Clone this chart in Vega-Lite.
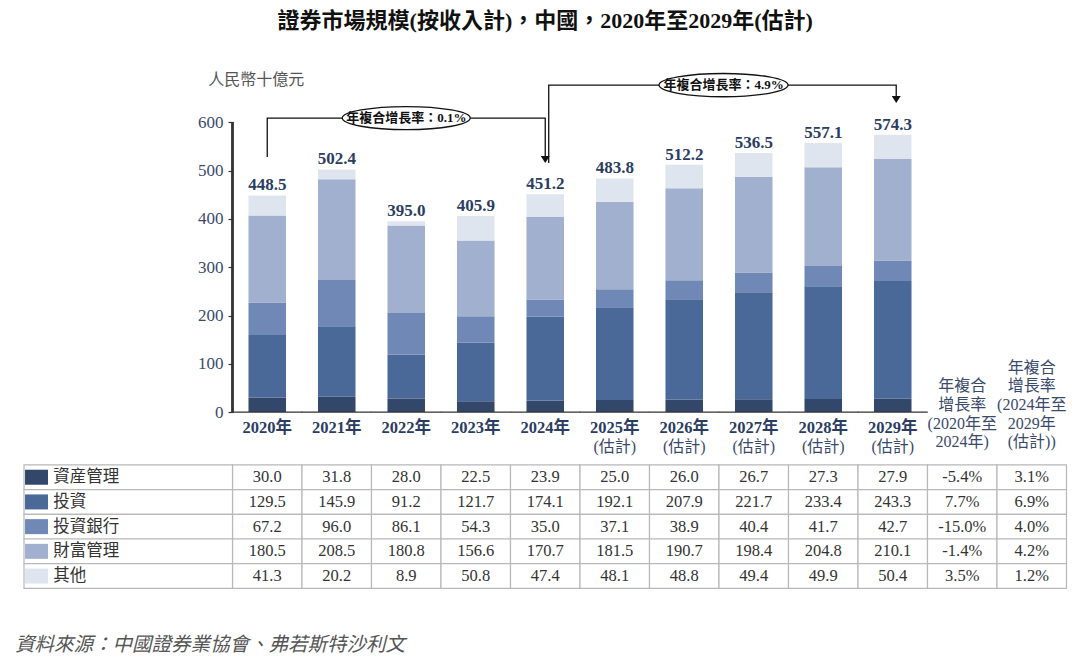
{
  "$schema": "https://vega.github.io/schema/vega-lite/v6.json",
  "width": 1042.5,
  "height": 528.4,
  "autosize": {"type": "none"},
  "padding": {"left": 24, "top": 60, "right": 13.5, "bottom": 72.6},
  "title": {"text": "證券市場規模(按收入計)，中國，2020年至2029年(估計)", "fontSize": 22, "font": "Liberation Serif, Noto Sans CJK TC", "fontWeight": "bold", "color": "#111111", "anchor": "middle", "offset": 27},
  "config": {"view": {"stroke": null}, "text": {"font": "Liberation Serif, Noto Sans CJK TC"}},
  "datasets": {
    "vals": [
      {"c": "2020年", "s": "資産管理", "v": 30.0}, {"c": "2021年", "s": "資産管理", "v": 31.8}, {"c": "2022年", "s": "資産管理", "v": 28.0}, {"c": "2023年", "s": "資産管理", "v": 22.5}, {"c": "2024年", "s": "資産管理", "v": 23.9},
      {"c": "2025年", "s": "資産管理", "v": 25.0}, {"c": "2026年", "s": "資産管理", "v": 26.0}, {"c": "2027年", "s": "資産管理", "v": 26.7}, {"c": "2028年", "s": "資産管理", "v": 27.3}, {"c": "2029年", "s": "資産管理", "v": 27.9},
      {"c": "2020年", "s": "投資", "v": 129.5}, {"c": "2021年", "s": "投資", "v": 145.9}, {"c": "2022年", "s": "投資", "v": 91.2}, {"c": "2023年", "s": "投資", "v": 121.7}, {"c": "2024年", "s": "投資", "v": 174.1},
      {"c": "2025年", "s": "投資", "v": 192.1}, {"c": "2026年", "s": "投資", "v": 207.9}, {"c": "2027年", "s": "投資", "v": 221.7}, {"c": "2028年", "s": "投資", "v": 233.4}, {"c": "2029年", "s": "投資", "v": 243.3},
      {"c": "2020年", "s": "投資銀行", "v": 67.2}, {"c": "2021年", "s": "投資銀行", "v": 96.0}, {"c": "2022年", "s": "投資銀行", "v": 86.1}, {"c": "2023年", "s": "投資銀行", "v": 54.3}, {"c": "2024年", "s": "投資銀行", "v": 35.0},
      {"c": "2025年", "s": "投資銀行", "v": 37.1}, {"c": "2026年", "s": "投資銀行", "v": 38.9}, {"c": "2027年", "s": "投資銀行", "v": 40.4}, {"c": "2028年", "s": "投資銀行", "v": 41.7}, {"c": "2029年", "s": "投資銀行", "v": 42.7},
      {"c": "2020年", "s": "財富管理", "v": 180.5}, {"c": "2021年", "s": "財富管理", "v": 208.5}, {"c": "2022年", "s": "財富管理", "v": 180.8}, {"c": "2023年", "s": "財富管理", "v": 156.6}, {"c": "2024年", "s": "財富管理", "v": 170.7},
      {"c": "2025年", "s": "財富管理", "v": 181.5}, {"c": "2026年", "s": "財富管理", "v": 190.7}, {"c": "2027年", "s": "財富管理", "v": 198.4}, {"c": "2028年", "s": "財富管理", "v": 204.8}, {"c": "2029年", "s": "財富管理", "v": 210.1},
      {"c": "2020年", "s": "其他", "v": 41.3}, {"c": "2021年", "s": "其他", "v": 20.2}, {"c": "2022年", "s": "其他", "v": 8.9}, {"c": "2023年", "s": "其他", "v": 50.8}, {"c": "2024年", "s": "其他", "v": 47.4},
      {"c": "2025年", "s": "其他", "v": 48.1}, {"c": "2026年", "s": "其他", "v": 48.8}, {"c": "2027年", "s": "其他", "v": 49.4}, {"c": "2028年", "s": "其他", "v": 49.9}, {"c": "2029年", "s": "其他", "v": 50.4}
    ],
    "cagr": [
      {"c": "c1", "s": "資産管理", "t": "-5.4%"}, {"c": "c2", "s": "資産管理", "t": "3.1%"},
      {"c": "c1", "s": "投資", "t": "7.7%"}, {"c": "c2", "s": "投資", "t": "6.9%"},
      {"c": "c1", "s": "投資銀行", "t": "-15.0%"}, {"c": "c2", "s": "投資銀行", "t": "4.0%"},
      {"c": "c1", "s": "財富管理", "t": "-1.4%"}, {"c": "c2", "s": "財富管理", "t": "4.2%"},
      {"c": "c1", "s": "其他", "t": "3.5%"}, {"c": "c2", "s": "其他", "t": "1.2%"}
    ],
    "series": [{"s": "資産管理"}, {"s": "投資"}, {"s": "投資銀行"}, {"s": "財富管理"}, {"s": "其他"}],
    "totals": [
      {"c": "2020年", "v": 448.5, "e": ""}, {"c": "2021年", "v": 502.4, "e": ""}, {"c": "2022年", "v": 395.0, "e": ""}, {"c": "2023年", "v": 405.9, "e": ""}, {"c": "2024年", "v": 451.2, "e": ""},
      {"c": "2025年", "v": 483.8, "e": "(估計)"}, {"c": "2026年", "v": 512.2, "e": "(估計)"}, {"c": "2027年", "v": 536.5, "e": "(估計)"}, {"c": "2028年", "v": 557.1, "e": "(估計)"}, {"c": "2029年", "v": 574.3, "e": "(估計)"}
    ],
    "hdr": [
      {"c": "c1", "t": " \n年複合\n增長率\n(2020年至\n2024年)"},
      {"c": "c2", "t": "年複合\n增長率\n(2024年至\n2029年\n(估計))"}
    ],
    "brk1": [
      {"c": "2020年", "v": 528, "i": 1}, {"c": "2020年", "v": 608.7, "i": 2}, {"c": "2024年", "v": 608.7, "i": 3}, {"c": "2024年", "v": 524, "i": 4}
    ],
    "brk2": [
      {"c": "2024年", "v": 515.5, "i": 1}, {"c": "2024年", "v": 677, "i": 2}, {"c": "2029年", "v": 677, "i": 3}, {"c": "2029年", "v": 649, "i": 4}
    ],
    "tag1": [{"c": "2022年", "v": 608.7, "t": "年複合增長率：0.1%"}],
    "tag2": [{"c": "2027年", "v": 677, "t": "年複合增長率：4.9%"}],
    "arr1": [{"c": "2024年", "v": 523}],
    "arr2": [{"c": "2029年", "v": 647.2}]
  },
  "layer": [
    {
      "layer": [
        {
          "data": {"name": "vals"},
          "mark": {"type": "rect", "fill": "#ffffff", "stroke": "#b8b8b8", "strokeWidth": 1.2},
          "encoding": {
            "x": {"field": "c", "type": "nominal", "scale": {"domain": ["L1","L2","L3","2020年","2021年","2022年","2023年","2024年","2025年","2026年","2027年","2028年","2029年","c1","c2"], "paddingInner": 0, "paddingOuter": 0}, "axis": null},
            "y": {"field": "s", "type": "nominal", "scale": {"domain": ["_1","_2","_3","_4","_5","_6","_7","_8","_9","_10","_11","_12","_13","_14","_15","_16","資産管理","投資","投資銀行","財富管理","其他"], "paddingInner": 0, "paddingOuter": 0.195, "align": 1}, "axis": null}
          }
        },
        {
          "data": {"name": "cagr"},
          "mark": {"type": "rect", "fill": "#ffffff", "stroke": "#b8b8b8", "strokeWidth": 1.2},
          "encoding": {
            "x": {"field": "c", "type": "nominal"},
            "y": {"field": "s", "type": "nominal"}
          }
        },
        {
          "data": {"name": "series"},
          "mark": {"type": "rect", "fill": "#ffffff", "stroke": "#b8b8b8", "strokeWidth": 1.2, "width": {"band": 3}},
          "encoding": {
            "x": {"datum": "L2", "type": "nominal"},
            "y": {"field": "s", "type": "nominal"}
          }
        },
        {
          "data": {"name": "series"},
          "mark": {"type": "point", "shape": "M-1.53,-1L1.53,-1L1.53,1L-1.53,1Z", "size": 225, "filled": true, "opacity": 1, "strokeWidth": 0},
          "encoding": {
            "x": {"datum": "L1", "type": "nominal", "bandPosition": 0.18},
            "y": {"field": "s", "type": "nominal"},
            "color": {"field": "s", "type": "nominal", "legend": null}
          }
        },
        {
          "data": {"name": "series"},
          "mark": {"type": "text", "align": "left", "baseline": "middle", "fontSize": 16.5, "color": "#333333"},
          "encoding": {
            "x": {"datum": "L1", "type": "nominal", "bandPosition": 0.42},
            "y": {"field": "s", "type": "nominal"},
            "text": {"field": "s"}
          }
        },
        {
          "data": {"name": "vals"},
          "mark": {"type": "text", "baseline": "middle", "fontSize": 16.5, "color": "#333333"},
          "encoding": {
            "x": {"field": "c", "type": "nominal"},
            "y": {"field": "s", "type": "nominal"},
            "text": {"field": "v", "type": "quantitative", "format": ".1f"}
          }
        },
        {
          "data": {"name": "cagr"},
          "mark": {"type": "text", "baseline": "middle", "fontSize": 16.5, "color": "#333333"},
          "encoding": {
            "x": {"field": "c", "type": "nominal"},
            "y": {"field": "s", "type": "nominal"},
            "text": {"field": "t"}
          }
        }
      ]
    },
    {
      "layer": [
        {
          "data": {"name": "vals"},
          "transform": [{"calculate": "datum.s == '資産管理' ? 0 : datum.s == '投資' ? 1 : datum.s == '投資銀行' ? 2 : datum.s == '財富管理' ? 3 : 4", "as": "k"}],
          "mark": {"type": "bar", "width": {"band": 0.54}},
          "encoding": {
            "x": {"field": "c", "type": "nominal"},
            "y": {"field": "v", "type": "quantitative", "stack": "zero", "scale": {"domain": [-365, 729], "nice": false, "zero": false},
                  "axis": {"orient": "left", "values": [0,100,200,300,400,500,600], "domain": false, "grid": false, "title": null, "offset": -209, "tickSize": 5, "tickWidth": 1.2, "tickColor": "#333333", "labelPadding": 5, "labelFont": "Liberation Serif", "labelFontSize": 17, "labelColor": "#3a4a6b"}},
            "color": {"field": "s", "type": "nominal", "scale": {"domain": ["資産管理","投資","投資銀行","財富管理","其他"], "range": ["#33476a","#4a6898","#7088b6","#a2b0d0","#dfe5ef"]}, "legend": null},
            "order": {"field": "k", "type": "quantitative"}
          }
        },
        {
          "data": {"name": "totals"},
          "mark": {"type": "rule", "color": "#333333", "strokeWidth": 1.4},
          "encoding": {
            "x": {"datum": "2020年", "type": "nominal", "bandPosition": 0},
            "y": {"datum": 0, "type": "quantitative"},
            "y2": {"datum": 600}
          }
        },
        {
          "data": {"name": "totals"},
          "mark": {"type": "tick", "orient": "horizontal", "size": 70, "thickness": 1.4, "color": "#333333", "opacity": 1},
          "encoding": {
            "x": {"field": "c", "type": "nominal"},
            "y": {"datum": 0, "type": "quantitative"}
          }
        },
        {
          "data": {"name": "totals"},
          "mark": {"type": "text", "baseline": "alphabetic", "dy": -5, "fontSize": 17, "fontWeight": "bold", "color": "#2b3d62"},
          "encoding": {
            "x": {"field": "c", "type": "nominal"},
            "y": {"field": "v", "type": "quantitative"},
            "text": {"field": "v", "type": "quantitative", "format": ".1f"}
          }
        },
        {
          "data": {"name": "totals"},
          "mark": {"type": "text", "baseline": "top", "fontSize": 16.5, "fontWeight": "bold", "color": "#2b3d62"},
          "encoding": {
            "x": {"field": "c", "type": "nominal"},
            "y": {"datum": -16.6, "type": "quantitative"},
            "text": {"field": "c"}
          }
        },
        {
          "data": {"name": "totals"},
          "mark": {"type": "text", "baseline": "middle", "fontSize": 16, "color": "#3a4a6b"},
          "encoding": {
            "x": {"field": "c", "type": "nominal"},
            "y": {"datum": -71.8, "type": "quantitative"},
            "text": {"field": "e"}
          }
        },
        {
          "data": {"name": "hdr"},
          "mark": {"type": "text", "baseline": "top", "lineBreak": "\n", "lineHeight": 18.7, "fontSize": 16, "color": "#3a4a6b"},
          "encoding": {
            "x": {"field": "c", "type": "nominal"},
            "y": {"datum": 108.7, "type": "quantitative"},
            "text": {"field": "t"}
          }
        },
        {
          "data": {"name": "totals"},
          "transform": [{"filter": "datum.c == '2020年'"}],
          "mark": {"type": "text", "align": "left", "baseline": "middle", "fontSize": 16, "color": "#555555", "text": "人民幣十億元"},
          "encoding": {
            "x": {"datum": "L3", "type": "nominal", "bandPosition": 0.65},
            "y": {"datum": 687.4, "type": "quantitative"}
          }
        },
        {
          "data": {"name": "totals"},
          "transform": [{"filter": "datum.c == '2020年'"}],
          "mark": {"type": "text", "align": "left", "baseline": "middle", "fontSize": 19.5, "fontStyle": "italic", "color": "#555555", "text": "資料來源：中國證券業協會、弗若斯特沙利文"},
          "encoding": {
            "x": {"datum": "L1", "type": "nominal", "bandPosition": -0.13},
            "y": {"datum": -482.4, "type": "quantitative"}
          }
        },
        {
          "data": {"name": "brk1"},
          "mark": {"type": "line", "color": "#111111", "strokeWidth": 1.3},
          "encoding": {
            "x": {"field": "c", "type": "nominal"},
            "y": {"field": "v", "type": "quantitative"},
            "order": {"field": "i"}
          }
        },
        {
          "data": {"name": "brk2"},
          "mark": {"type": "line", "color": "#111111", "strokeWidth": 1.3},
          "encoding": {
            "x": {"field": "c", "type": "nominal", "bandPosition": 0.55},
            "y": {"field": "v", "type": "quantitative"},
            "order": {"field": "i"}
          }
        },
        {
          "data": {"name": "arr1"},
          "mark": {"type": "point", "shape": "M-1,-0.8L1,-0.8L0,0.8Z", "size": 81, "filled": true, "color": "#111111", "opacity": 1},
          "encoding": {
            "x": {"field": "c", "type": "nominal"},
            "y": {"field": "v", "type": "quantitative"}
          }
        },
        {
          "data": {"name": "arr2"},
          "mark": {"type": "point", "shape": "M-1,-0.8L1,-0.8L0,0.8Z", "size": 81, "filled": true, "color": "#111111", "opacity": 1},
          "encoding": {
            "x": {"field": "c", "type": "nominal", "bandPosition": 0.55},
            "y": {"field": "v", "type": "quantitative"}
          }
        },
        {
          "data": {"name": "tag1"},
          "mark": {"type": "point", "shape": "M-1,0C-1,-0.1,-0.55,-0.18,0,-0.18C0.55,-0.18,1,-0.1,1,0C1,0.1,0.55,0.18,0,0.18C-0.55,0.18,-1,0.1,-1,0Z", "size": 16384, "filled": true, "fill": "#ffffff", "stroke": "#111111", "strokeWidth": 1.3, "opacity": 1},
          "encoding": {
            "x": {"field": "c", "type": "nominal"},
            "y": {"field": "v", "type": "quantitative"}
          }
        },
        {
          "data": {"name": "tag1"},
          "mark": {"type": "text", "baseline": "middle", "fontSize": 13, "fontWeight": "bold", "color": "#111111"},
          "encoding": {
            "x": {"field": "c", "type": "nominal"},
            "y": {"field": "v", "type": "quantitative"},
            "text": {"field": "t"}
          }
        },
        {
          "data": {"name": "tag2"},
          "mark": {"type": "point", "shape": "M-1,0C-1,-0.1,-0.55,-0.18,0,-0.18C0.55,-0.18,1,-0.1,1,0C1,0.1,0.55,0.18,0,0.18C-0.55,0.18,-1,0.1,-1,0Z", "size": 16640, "filled": true, "fill": "#ffffff", "stroke": "#111111", "strokeWidth": 1.3, "opacity": 1},
          "encoding": {
            "x": {"field": "c", "type": "nominal", "bandPosition": 0.065},
            "y": {"field": "v", "type": "quantitative"}
          }
        },
        {
          "data": {"name": "tag2"},
          "mark": {"type": "text", "baseline": "middle", "fontSize": 13, "fontWeight": "bold", "color": "#111111"},
          "encoding": {
            "x": {"field": "c", "type": "nominal", "bandPosition": 0.065},
            "y": {"field": "v", "type": "quantitative"},
            "text": {"field": "t"}
          }
        }
      ]
    }
  ],
  "resolve": {"scale": {"y": "independent"}, "axis": {"y": "independent"}}
}
